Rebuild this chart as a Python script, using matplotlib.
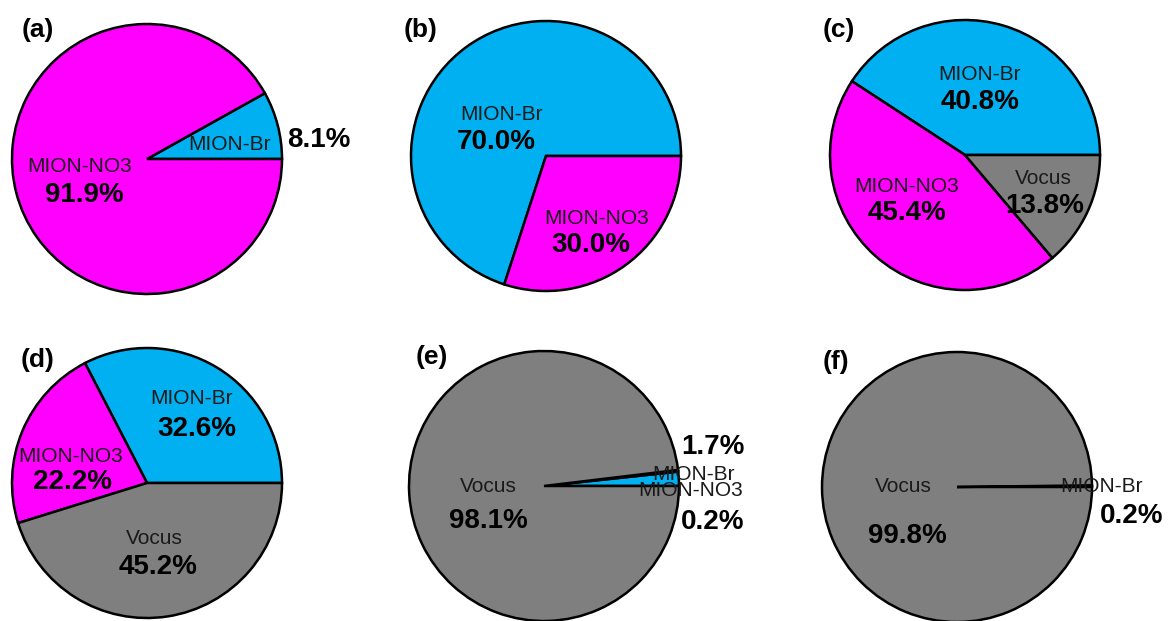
import matplotlib.pyplot as plt

plt.rcParams['font.family'] = ['Liberation Sans', 'DejaVu Sans']

# ---- data ----
panel_tags = ["(a)", "(b)", "(c)", "(d)", "(e)", "(f)"]

names_a = ["MION-Br", "MION-NO3"]
values_a = [8.1, 91.9]
names_b = ["MION-Br", "MION-NO3"]
values_b = [70.0, 30.0]
names_c = ["MION-Br", "MION-NO3", "Vocus"]
values_c = [40.8, 45.4, 13.8]
names_d = ["MION-Br", "MION-NO3", "Vocus"]
values_d = [32.6, 22.2, 45.2]
names_e = ["MION-Br", "MION-NO3", "Vocus"]
values_e = [1.7, 0.2, 98.1]
names_f = ["MION-Br", "Vocus"]
values_f = [0.2, 99.8]

colors = {"MION-Br": "#00B0F0", "MION-NO3": "#FF00FF", "Vocus": "#7F7F7F"}

# ---- layout (pixels in a 1169x621 canvas) ----
W, H = 1169, 621
R = 135
centers = [(147, 159), (546, 156), (965, 155), (147, 483), (544, 486), (957, 487)]
tag_pos = [(38, 30), (421, 30), (839, 30), (38, 360), (432, 357), (836, 362)]
# label positions: (name xy, pct xy) per slice
label_pos = [
    [((230, 145), (319, 140)), ((80, 166), (84, 195))],
    [((501, 114), (496, 142)), ((597, 218), (591, 245))],
    [((980, 74), (980, 102)), ((907, 187), (907, 213)), ((1043, 179), (1045, 206))],
    [((192, 399), (197, 429)), ((71, 456), (72, 482)), ((154, 539), (158, 567))],
    [((693, 474), (713, 447)), ((691, 491), (713, 522)), ((488, 486), (488, 521))],
    [((1102, 486), (1132, 516)), ((903, 486), (907, 536))],
]

all_names = [names_a, names_b, names_c, names_d, names_e, names_f]
all_values = [values_a, values_b, values_c, values_d, values_e, values_f]

fig = plt.figure(figsize=(11.69, 6.21), dpi=100)
k = 1.05

for i in range(6):
    cx, cy = centers[i]
    ax = fig.add_axes([(cx - R * k) / W, 1 - (cy + R * k) / H, 2 * R * k / W, 2 * R * k / H])
    names = all_names[i]
    vals = all_values[i]
    ax.pie(vals, colors=[colors[n] for n in names], startangle=0, counterclock=True,
           radius=1, wedgeprops=dict(edgecolor="black", linewidth=1.8))
    ax.set_xlim(-k, k)
    ax.set_ylim(-k, k)
    ax.set_aspect("equal")
    ax.axis("off")

    tx, ty = tag_pos[i]
    fig.text(tx / W, 1 - ty / H, panel_tags[i], fontsize=19, fontweight="bold",
             ha="center", va="center")
    for n, v, (npos, ppos) in zip(names, vals, label_pos[i]):
        fig.text(npos[0] / W, 1 - npos[1] / H, n, fontsize=15,
                 color="#1a1a1a", ha="center", va="center")
        fig.text(ppos[0] / W, 1 - ppos[1] / H, f"{v:.1f}%", fontsize=20,
                 fontweight="bold", ha="center", va="center")

fig.savefig("out.png", dpi=100)
